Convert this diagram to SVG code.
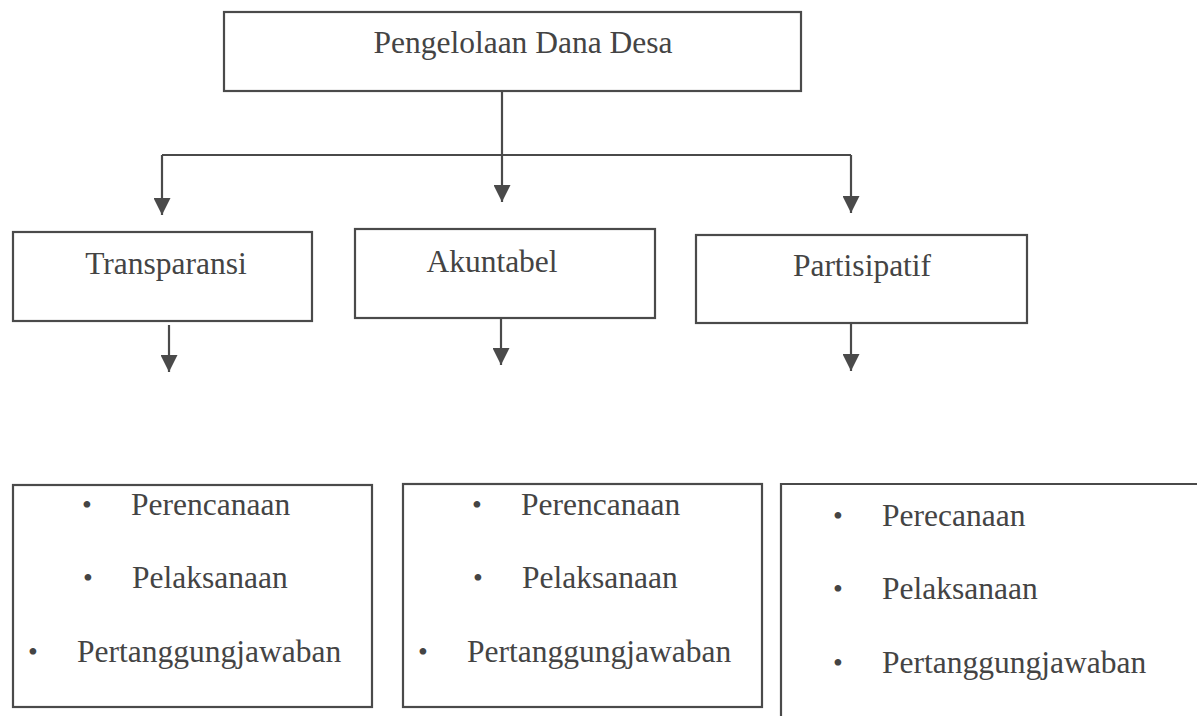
<svg xmlns="http://www.w3.org/2000/svg" width="1197" height="716" viewBox="0 0 1197 716" font-family="'Liberation Serif', 'Times New Roman', Times, serif">
<style>
.box{fill:#fff;stroke:#4a4a4a;stroke-width:2.2}
.ln{fill:none;stroke:#4a4a4a;stroke-width:2.2}
text{font-family:'Liberation Serif','Times New Roman',Times,serif;font-size:31.5px;fill:#444}
.c{text-anchor:middle}
.b{font-size:28px;text-anchor:middle}
</style>
<defs>
<marker id="ah" markerUnits="userSpaceOnUse" markerWidth="17" markerHeight="17" viewBox="0 0 16 16" refX="16" refY="8" orient="auto">
<path d="M0 0 L16 8 L0 16 Z" fill="#4a4a4a"/>
</marker>
</defs>
<rect width="1197" height="716" fill="#fff"/>
<g id="connectors">
<path class="ln" d="M502 91 V155"/>
<path class="ln" d="M162 155 H851"/>
<path class="ln" d="M162 155 V215" marker-end="url(#ah)"/>
<path class="ln" d="M502 155 V202" marker-end="url(#ah)"/>
<path class="ln" d="M851 155 V213" marker-end="url(#ah)"/>
<path class="ln" d="M169 325 V372" marker-end="url(#ah)"/>
<path class="ln" d="M501 318 V365" marker-end="url(#ah)"/>
<path class="ln" d="M851 323 V371" marker-end="url(#ah)"/>
</g>
<g id="pengelolaan">
<rect class="box" x="224" y="12" width="577" height="79"/>
<text class="c" x="523" y="53">Pengelolaan Dana Desa</text>
</g>
<g id="transparansi">
<rect class="box" x="13" y="232" width="299" height="89"/>
<text class="c" x="166" y="274">Transparansi</text>
</g>
<g id="akuntabel">
<rect class="box" x="355" y="229" width="300" height="89"/>
<text class="c" x="492" y="272">Akuntabel</text>
</g>
<g id="partisipatif">
<rect class="box" x="696" y="235" width="331" height="88"/>
<text class="c" x="862" y="276">Partisipatif</text>
</g>
<g id="list-transparansi">
<rect class="box" x="13" y="485" width="359" height="222"/>
<text class="b" x="87" y="514">•</text><text x="131" y="515">Perencanaan</text>
<text class="b" x="88" y="587">•</text><text x="132" y="588">Pelaksanaan</text>
<text class="b" x="33" y="661">•</text><text x="77" y="662">Pertanggungjawaban</text>
</g>
<g id="list-akuntabel">
<rect class="box" x="403" y="484" width="359" height="223"/>
<text class="b" x="477" y="514">•</text><text x="521" y="515">Perencanaan</text>
<text class="b" x="478" y="587">•</text><text x="522" y="588">Pelaksanaan</text>
<text class="b" x="423" y="661">•</text><text x="467" y="662">Pertanggungjawaban</text>
</g>
<g id="list-partisipatif">
<path class="ln" d="M781 716 V484 H1197"/>
<text class="b" x="838" y="525">•</text><text x="882" y="526">Perecanaan</text>
<text class="b" x="838" y="598">•</text><text x="882" y="599">Pelaksanaan</text>
<text class="b" x="838" y="672">•</text><text x="882" y="673">Pertanggungjawaban</text>
</g>
</svg>
